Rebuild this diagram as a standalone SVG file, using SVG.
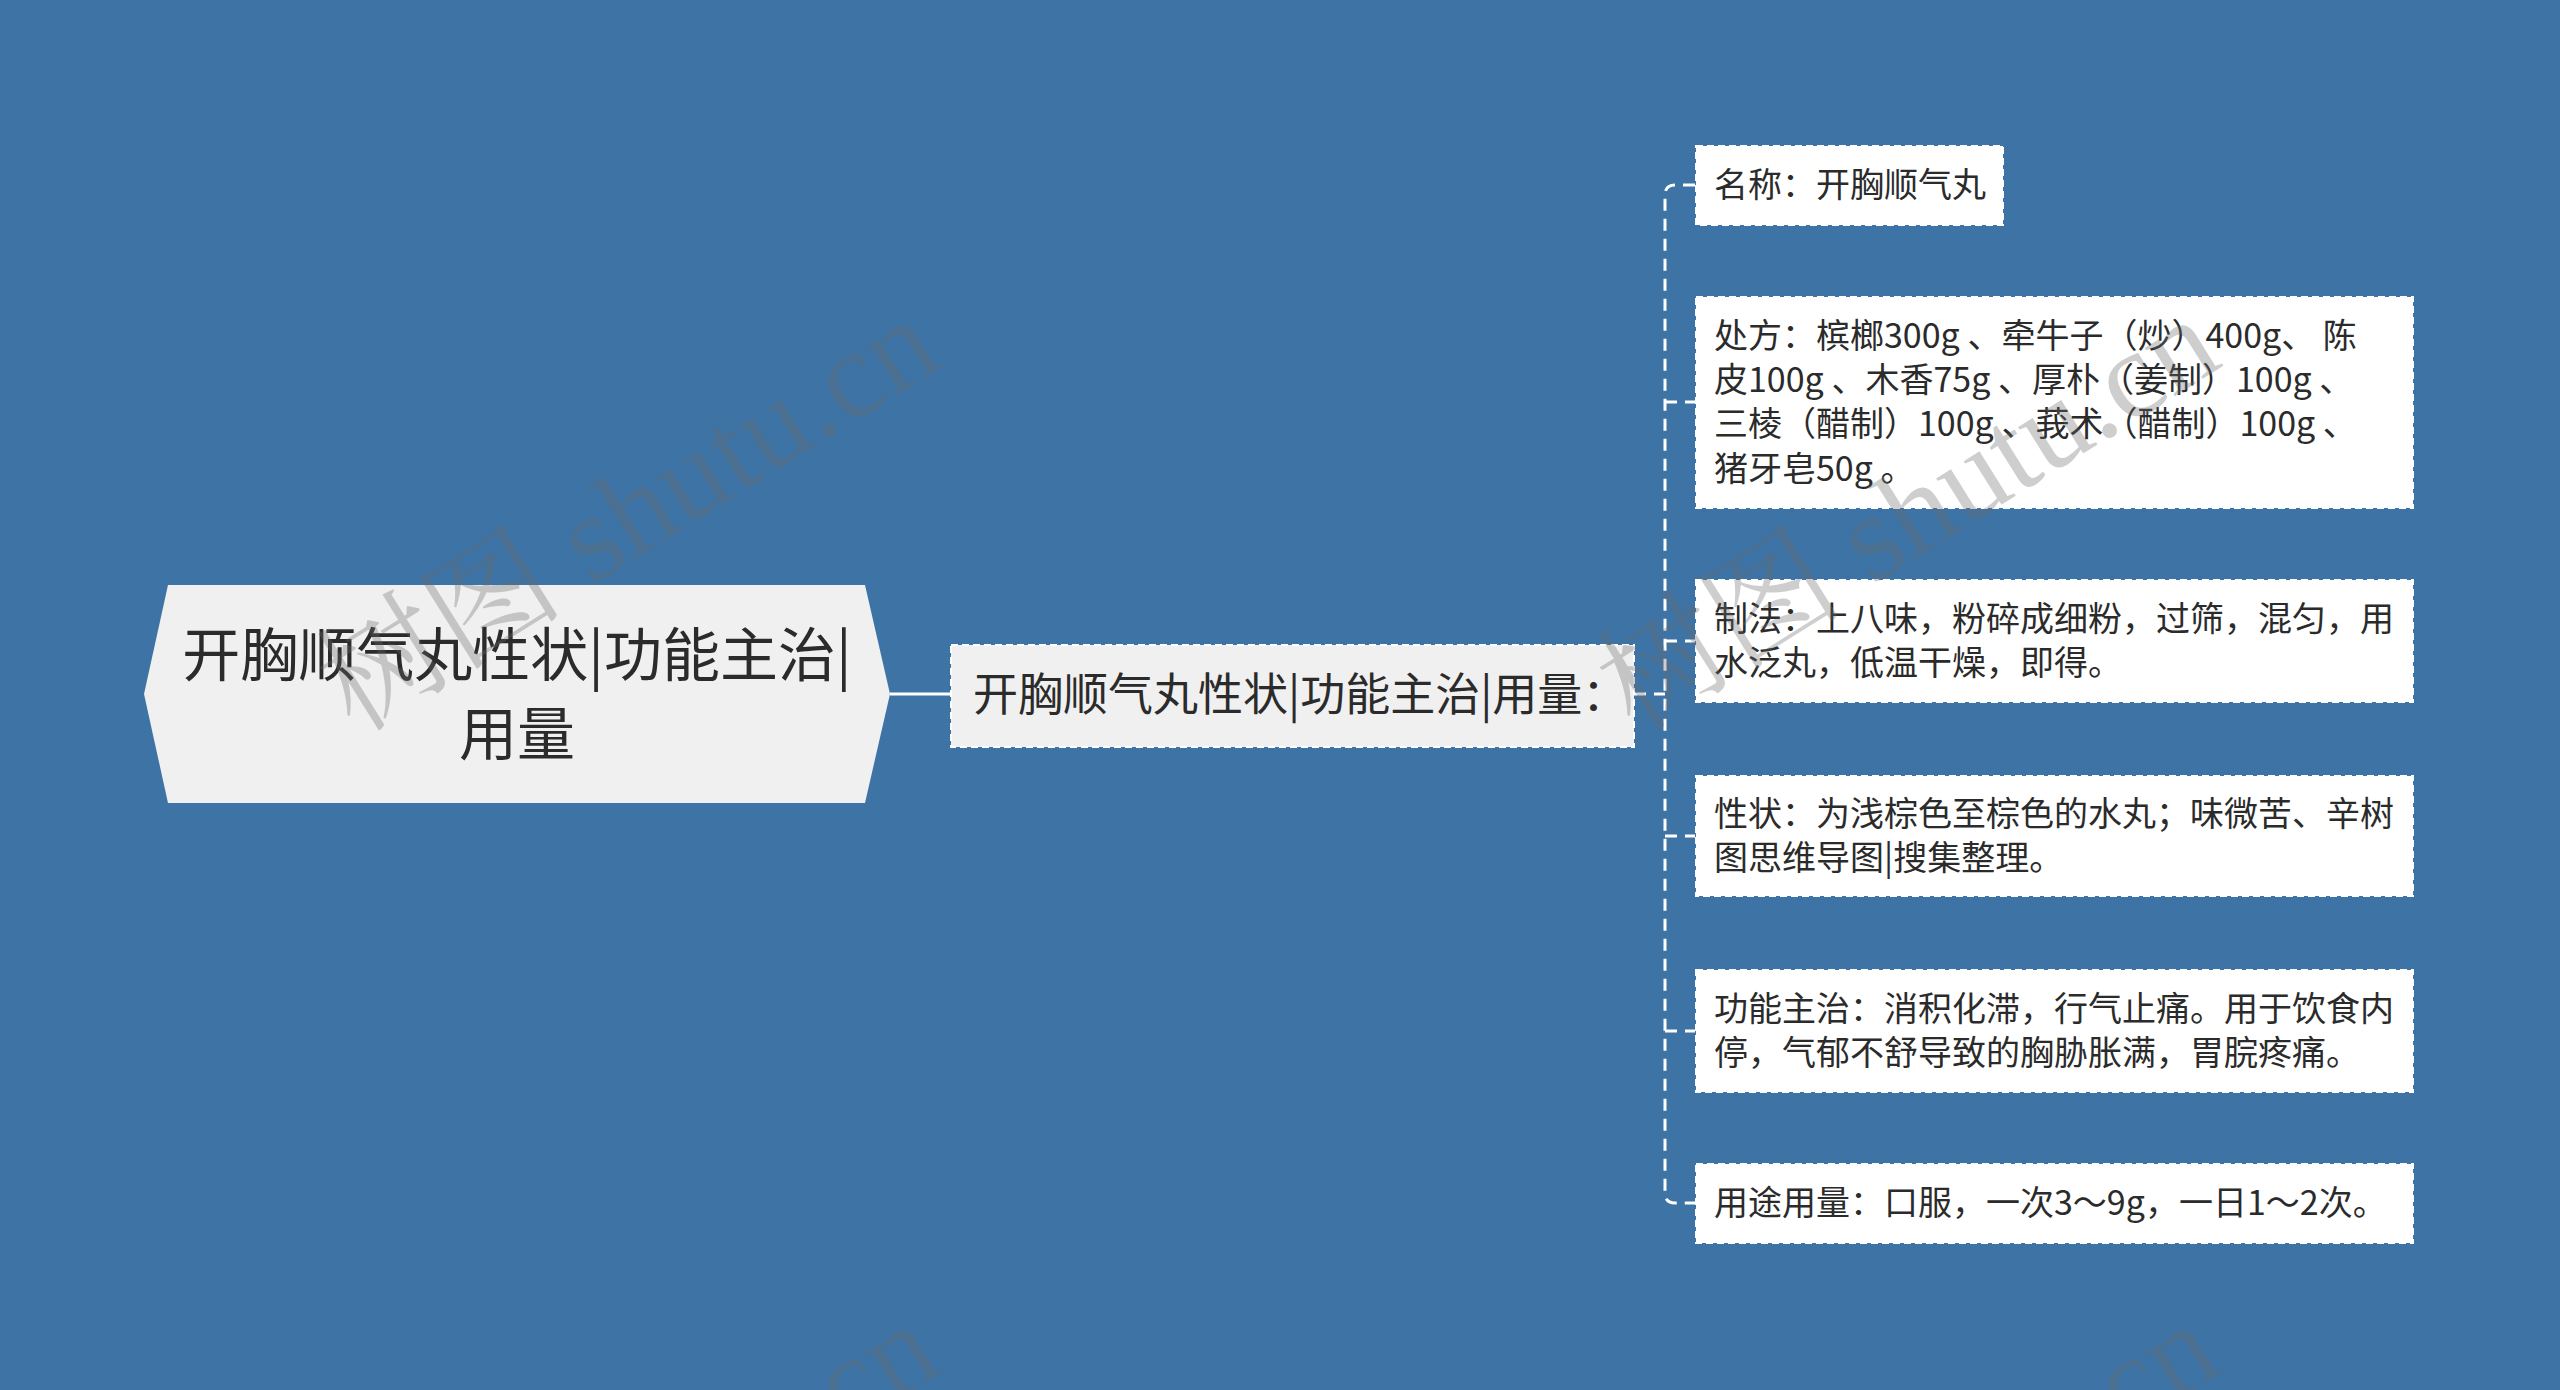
<svg xmlns="http://www.w3.org/2000/svg" width="2560" height="1390" viewBox="0 0 2560 1390">
<style>
.t{font-family:"Noto Sans CJK SC","Noto Sans",sans-serif;fill:#2b2b2b}
.leaf{fill:#ffffff;stroke:#ffffff;stroke-width:2;stroke-dasharray:7 4}
.lt{font-size:34px}
.dash{fill:none;stroke:#ffffff;stroke-width:3;stroke-dasharray:12 8}
.wm{font-family:"Liberation Serif","Noto Serif CJK SC","Noto Sans CJK SC",serif;font-size:124px;fill:#6b6b6b;fill-opacity:0.33}
</style>
<rect x="0" y="0" width="2560" height="1390" fill="#3d73a5"/>
<g id="connectors">
<line x1="890" y1="694" x2="950" y2="694" stroke="#ffffff" stroke-width="3"/>
<path class="dash" d="M1634 694 H1665"/>
<path class="dash" d="M1695 185 H1675 Q1665 185 1665 195 V1193 Q1665 1203 1675 1203 H1695"/>
<path class="dash" d="M1665 402 H1695"/>
<path class="dash" d="M1665 641 H1695"/>
<path class="dash" d="M1665 836 H1695"/>
<path class="dash" d="M1665 1031 H1695"/>
</g>
<g id="root">
<polygon points="144,694 168,585 865,585 890,694 865,803 168,803" fill="#f0f0f0"/>
<text class="t" x="517" y="676" font-size="58" text-anchor="middle">开胸顺气丸性状|功能主治|</text>
<text class="t" x="517" y="755" font-size="58" text-anchor="middle">用量</text>
</g>
<g id="main">
<rect x="951" y="645" width="683" height="102" fill="#f0f0f0" stroke="#ffffff" stroke-width="2" stroke-dasharray="7 4"/>
<text class="t" x="973" y="711" font-size="45">开胸顺气丸性状|功能主治|用量：</text>
</g>
<g id="leaf1">
<rect class="leaf" x="1696" y="146" width="307" height="79"/>
<text class="t lt" x="1714" y="197">名称：开胸顺气丸</text>
</g>
<g id="leaf2">
<rect class="leaf" x="1696" y="297" width="717" height="211"/>
<text class="t lt" x="1714" y="348">处方：槟榔300g 、牵牛子（炒）400g、 陈</text>
<text class="t lt" x="1714" y="392">皮100g 、木香75g 、厚朴（姜制）100g 、</text>
<text class="t lt" x="1714" y="436">三棱（醋制）100g 、莪术（醋制）100g 、</text>
<text class="t lt" x="1714" y="481">猪牙皂50g 。</text>
</g>
<g id="leaf3">
<rect class="leaf" x="1696" y="580" width="717" height="122"/>
<text class="t lt" x="1714" y="631">制法：上八味，粉碎成细粉，过筛，混匀，用</text>
<text class="t lt" x="1714" y="675">水泛丸，低温干燥，即得。</text>
</g>
<g id="leaf4">
<rect class="leaf" x="1696" y="776" width="717" height="120"/>
<text class="t lt" x="1714" y="826">性状：为浅棕色至棕色的水丸；味微苦、辛树</text>
<text class="t lt" x="1714" y="870">图思维导图|搜集整理。</text>
</g>
<g id="leaf5">
<rect class="leaf" x="1696" y="970" width="717" height="122"/>
<text class="t lt" x="1714" y="1021">功能主治：消积化滞，行气止痛。用于饮食内</text>
<text class="t lt" x="1714" y="1065">停，气郁不舒导致的胸胁胀满，胃脘疼痛。</text>
</g>
<g id="leaf6">
<rect class="leaf" x="1696" y="1164" width="717" height="79"/>
<text class="t lt" x="1714" y="1215">用途用量：口服，一次3～9g，一日1～2次。</text>
</g>
<g id="watermark">
<text class="wm" transform="translate(945,365) rotate(-32)" text-anchor="end">树图 shutu.cn</text>
<text class="wm" transform="translate(2225,365) rotate(-32)" text-anchor="end">树图 shutu.cn</text>
<text class="wm" transform="translate(945,1370) rotate(-32)" text-anchor="end">树图 shutu.cn</text>
<text class="wm" transform="translate(2225,1370) rotate(-32)" text-anchor="end">树图 shutu.cn</text>
</g>
</svg>
